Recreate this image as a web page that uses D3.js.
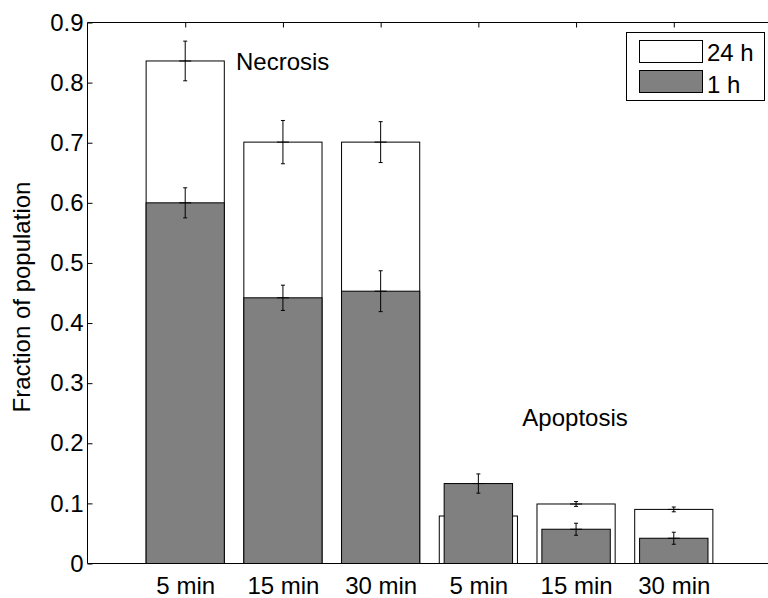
<!DOCTYPE html>
<html>
<head>
<meta charset="utf-8">
<script src="https://cdn.jsdelivr.net/npm/d3@7"></script>
<style>
  html, body { margin: 0; padding: 0; background: #fff; }
  svg { display: block; font-family: "Liberation Sans", Arial, Helvetica, sans-serif; }
</style>
</head>
<body>
<svg id="chart" width="768" height="598"></svg>
<script>
// Cell death after exposure: fraction of population, measured at 1 h and 24 h
const groups = ["Necrosis", "Necrosis", "Necrosis", "Apoptosis", "Apoptosis", "Apoptosis"];
const categories = ["5 min", "15 min", "30 min", "5 min", "15 min", "30 min"];
const frac24h = [0.836, 0.701, 0.701, 0.079, 0.099, 0.090];
const err24h = [0.033, 0.036, 0.034, 0.010, 0.004, 0.004];
const frac1h = [0.600, 0.442, 0.453, 0.133, 0.057, 0.042];
const err1h = [0.025, 0.021, 0.034, 0.016, 0.010, 0.010];
const yTicks = [0, 0.1, 0.2, 0.3, 0.4, 0.5, 0.6, 0.7, 0.8, 0.9];
const seriesNames = ["24 h", "1 h"];
const groupLabels = [
  { text: "Necrosis", x: 1.52, y: 0.821 },
  { text: "Apoptosis", x: 4.45, y: 0.229 }
];

const svg = d3.select("#chart");
const FONT = 24;
const plotLeft = 87.5, plotTop = 22.5, plotBottom = 563.5, plotRight = 771.5;

const x = d3.scaleLinear().domain([0, 7]).range([plotLeft, plotRight]);
const y = d3.scaleLinear().domain([0, 0.9]).range([plotBottom, plotTop]);

const idx = d3.range(categories.length);
const unit = x(1) - x(0);

// bottom axis labels first (ticks sit under the bars)
const xAxis = svg.append("g")
  .attr("transform", `translate(0,${plotBottom})`)
  .call(d3.axisBottom(x).tickValues(d3.range(1, 7)).tickSize(0).tickPadding(13)
    .tickFormat(d => categories[d - 1]));
xAxis.select(".domain").remove();
xAxis.selectAll("text").attr("font-size", FONT).attr("font-family", null).attr("fill", "#000");

// error bar helper: whisker, caps and a short mark at the mean
function errorBars(g, vals, errs, pos) {
  const eb = g.selectAll("g.eb").data(idx).join("g").attr("class", "eb");
  eb.append("line")
    .attr("x1", i => x(pos(i))).attr("x2", i => x(pos(i)))
    .attr("y1", i => y(vals[i] - errs[i])).attr("y2", i => y(vals[i] + errs[i]));
  eb.append("line")
    .attr("x1", i => x(pos(i)) - 2).attr("x2", i => x(pos(i)) + 2)
    .attr("y1", i => y(vals[i] + errs[i])).attr("y2", i => y(vals[i] + errs[i]));
  eb.append("line")
    .attr("x1", i => x(pos(i)) - 2).attr("x2", i => x(pos(i)) + 2)
    .attr("y1", i => y(vals[i] - errs[i])).attr("y2", i => y(vals[i] - errs[i]));
  eb.append("line")
    .attr("x1", i => x(pos(i)) - 6).attr("x2", i => x(pos(i)) + 6)
    .attr("y1", i => y(vals[i])).attr("y2", i => y(vals[i]));
  eb.selectAll("line").attr("stroke", "#000").attr("stroke-width", 1);
}

const pos = i => i + 1;
const wide = 0.8;
const grayWidth = i => groups[i] === "Necrosis" ? 0.8 : 0.7;

// 24 h bars (white)
svg.append("g").selectAll("rect").data(idx).join("rect")
  .attr("x", i => x(pos(i) - wide / 2))
  .attr("width", wide * unit)
  .attr("y", i => y(frac24h[i]))
  .attr("height", i => y(0) - y(frac24h[i]))
  .attr("fill", "#fff").attr("stroke", "#000").attr("stroke-width", 1);
errorBars(svg.append("g"), frac24h, err24h, pos);

// 1 h bars (gray) drawn over
svg.append("g").selectAll("rect").data(idx).join("rect")
  .attr("x", i => x(pos(i) - grayWidth(i) / 2))
  .attr("width", i => grayWidth(i) * unit)
  .attr("y", i => y(frac1h[i]))
  .attr("height", i => y(0) - y(frac1h[i]))
  .attr("fill", "#808080").attr("stroke", "#000").attr("stroke-width", 1);
errorBars(svg.append("g"), frac1h, err1h, pos);

// axes
const yAxis = svg.append("g")
  .attr("transform", `translate(${plotLeft},0)`)
  .call(d3.axisLeft(y).tickValues(yTicks).tickSize(-5).tickPadding(4)
    .tickFormat(d => d === 0 ? "0" : d3.format(".1f")(d)));
yAxis.selectAll("text").attr("font-size", FONT).attr("font-family", null).attr("fill", "#000");
yAxis.select(".domain").attr("d", `M0,${plotBottom}V${plotTop}`);

const topAxis = svg.append("g")
  .attr("transform", `translate(0,${plotTop})`)
  .call(d3.axisTop(x).tickValues(d3.range(1, 7)).tickSize(-5).tickFormat(""));
topAxis.select(".domain").attr("d", `M${plotLeft},0H${plotRight}`);

svg.append("line")
  .attr("x1", plotLeft).attr("x2", plotRight).attr("y1", plotBottom).attr("y2", plotBottom)
  .attr("stroke", "#000").attr("stroke-width", 1);

svg.selectAll(".domain").attr("stroke", "#000");

// y label
svg.append("text")
  .attr("transform", "translate(30,297) rotate(-90)")
  .attr("text-anchor", "middle")
  .attr("font-size", FONT)
  .text("Fraction of population");

// group labels
svg.append("g").selectAll("text").data(groupLabels).join("text")
  .attr("x", d => x(d.x)).attr("y", d => y(d.y))
  .attr("font-size", FONT)
  .text(d => d.text);

// legend
const lg = svg.append("g");
lg.append("rect").attr("x", 626.5).attr("y", 32.5).attr("width", 138).attr("height", 68)
  .attr("fill", "#fff").attr("stroke", "#000").attr("stroke-width", 1);
const legendFill = ["#fff", "#808080"];
seriesNames.forEach((name, k) => {
  lg.append("rect").attr("x", 639.5).attr("y", 40.5 + k * 30).attr("width", 63).attr("height", 22)
    .attr("fill", legendFill[k]).attr("stroke", "#000").attr("stroke-width", 1);
  lg.append("text").attr("x", 707).attr("y", 61 + k * 32).attr("font-size", FONT).text(name);
});
</script>
</body>
</html>
